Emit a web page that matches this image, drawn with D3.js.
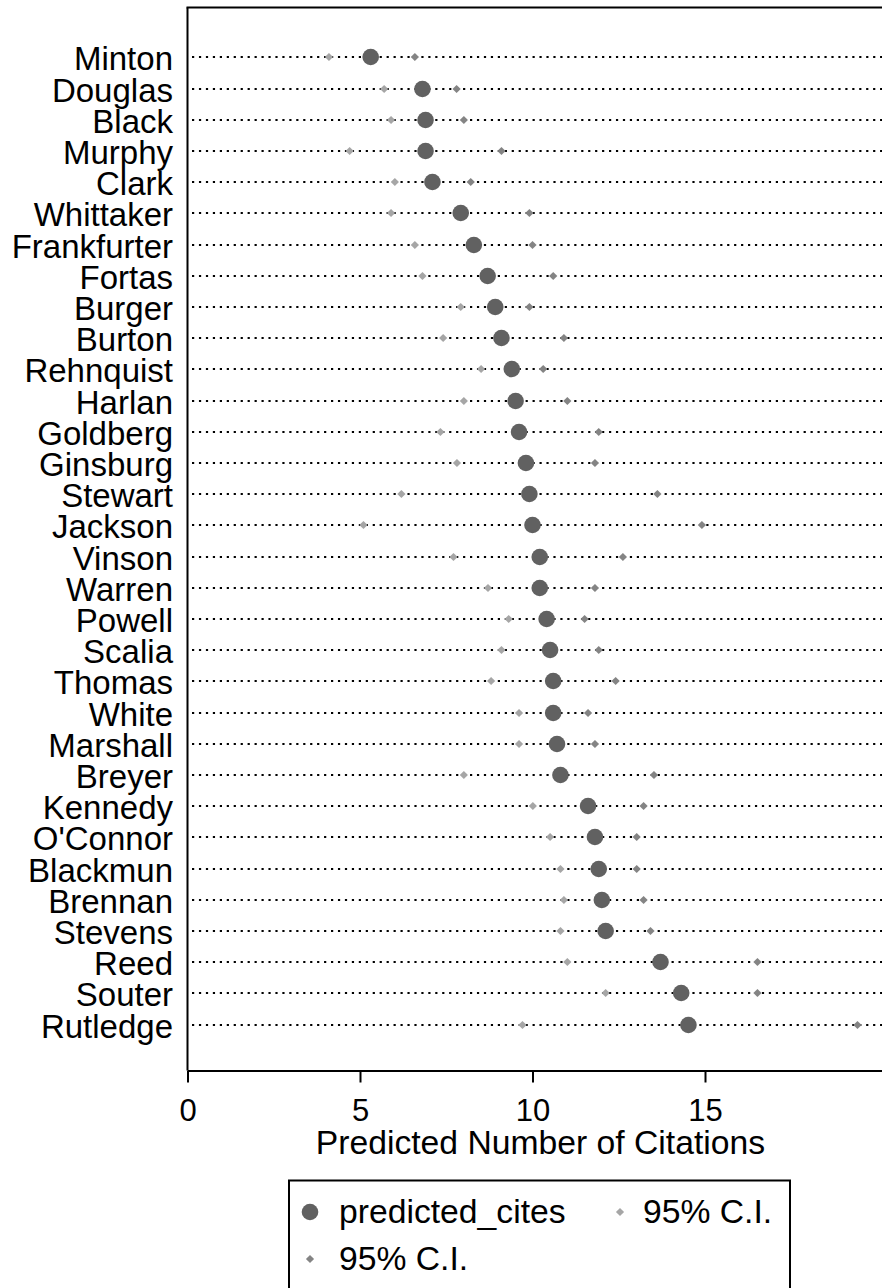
<!DOCTYPE html>
<html>
<head>
<meta charset="utf-8">
<script src="https://cdn.jsdelivr.net/npm/d3@7"></script>
<style>
  body { margin: 0; background: #fff; }
  svg { display: block; font-family: "Liberation Sans", Arial, sans-serif; }
</style>
</head>
<body>
<div id="chart"></div>
<script>
const justices = ['Minton', 'Douglas', 'Black', 'Murphy', 'Clark', 'Whittaker',
  'Frankfurter', 'Fortas', 'Burger', 'Burton', 'Rehnquist', 'Harlan', 'Goldberg',
  'Ginsburg', 'Stewart', 'Jackson', 'Vinson', 'Warren', 'Powell', 'Scalia', 'Thomas',
  'White', 'Marshall', 'Breyer', 'Kennedy', "O'Connor", 'Blackmun', 'Brennan',
  'Stevens', 'Reed', 'Souter', 'Rutledge'];

const predicted = [5.31, 6.81, 6.90, 6.90, 7.10, 7.92, 8.30, 8.70, 8.92, 9.10, 9.40,
  9.51, 9.61, 9.81, 9.91, 10.00, 10.21, 10.21, 10.41, 10.51, 10.60, 10.60, 10.71,
  10.81, 11.61, 11.81, 11.92, 12.01, 12.12, 13.71, 14.31, 14.52];

const lower = [4.10, 5.70, 5.90, 4.70, 6.01, 5.90, 6.59, 6.81, 7.92, 7.41, 8.51,
  8.01, 7.33, 7.81, 6.20, 5.10, 7.71, 8.71, 9.31, 9.10, 8.80, 9.61, 9.61, 8.01,
  10.01, 10.51, 10.81, 10.91, 10.81, 11.01, 12.12, 9.71];

const upper = [6.59, 7.80, 8.01, 9.10, 8.21, 9.91, 10.00, 10.60, 9.91, 10.91, 10.31,
  11.01, 11.92, 11.81, 13.62, 14.91, 12.62, 11.81, 11.51, 11.92, 12.41, 11.61, 11.81,
  13.52, 13.22, 13.02, 13.02, 13.22, 13.42, 16.52, 16.52, 19.42];

const xTicks = [0, 5, 10, 15];
const xTitle = 'Predicted Number of Citations';
const legendItems = [
  { label: 'predicted_cites', kind: 'point' },
  { label: '95% C.I.', kind: 'lower' },
  { label: '95% C.I.', kind: 'upper' }
];

const width = 882;
const height = 1288;
const frame = { left: 187.5, top: 7.5, bottom: 1070.5 };

const colors = { point: '#616161', lower: '#a6a6a6', upper: '#848484' };

const data = justices.map((name, i) => ({
  name, pred: predicted[i], lo: lower[i], hi: upper[i]
}));

const svg = d3.select('#chart').append('svg')
  .attr('width', width)
  .attr('height', height)
  .attr('viewBox', [0, 0, width, height]);

const x = d3.scaleLinear()
  .domain([0, 20.2])
  .range([frame.left, frame.left + 20.2 * 34.5]);

const y = d3.scalePoint()
  .domain(justices)
  .range([57.3, 1024.5]);

const diamond = d3.symbol().type(d3.symbolSquare).size(34);

// frame: top and left lines
svg.append('line')
  .attr('x1', frame.left - 1).attr('x2', width)
  .attr('y1', frame.top).attr('y2', frame.top)
  .attr('stroke', '#000').attr('stroke-width', 2);
svg.append('line')
  .attr('x1', frame.left).attr('x2', frame.left)
  .attr('y1', frame.top).attr('y2', frame.bottom)
  .attr('stroke', '#000').attr('stroke-width', 2);

// x axis
const xAxis = svg.append('g')
  .attr('transform', `translate(0,${frame.bottom})`)
  .call(d3.axisBottom(x).tickValues(xTicks).tickSize(12).tickSizeOuter(0).tickPadding(16))
  .attr('font-size', 31)
  .attr('font-family', null);
xAxis.select('.domain').attr('stroke-width', 2);
xAxis.selectAll('.tick line').attr('stroke-width', 2);
xAxis.selectAll('.tick text').attr('fill', '#000');

svg.append('text')
  .attr('x', x(10.23))
  .attr('y', 1154)
  .attr('text-anchor', 'middle')
  .attr('font-size', 33.7)
  .text(xTitle);

// dotted guide lines + names
const rows = svg.append('g')
  .selectAll('g')
  .data(data)
  .enter().append('g')
  .attr('transform', d => `translate(0,${Math.round(y(d.name))})`);

rows.append('line')
  .attr('x1', 192)
  .attr('x2', width)
  .attr('stroke', '#000')
  .attr('stroke-width', 2.2)
  .attr('stroke-dasharray', '2.2,4.75');

rows.append('text')
  .attr('x', 173)
  .attr('dy', '0.38em')
  .attr('text-anchor', 'end')
  .attr('font-size', 33)
  .text(d => d.name);

rows.append('path')
  .attr('d', diamond)
  .attr('transform', d => `translate(${x(d.lo)},0) rotate(45)`)
  .attr('fill', colors.lower);

rows.append('path')
  .attr('d', diamond)
  .attr('transform', d => `translate(${x(d.hi)},0) rotate(45)`)
  .attr('fill', colors.upper);

rows.append('circle')
  .attr('cx', d => x(d.pred))
  .attr('r', 8.3)
  .attr('fill', colors.point);

// legend
const legend = svg.append('g');
legend.append('rect')
  .attr('x', 289).attr('y', 1180.5)
  .attr('width', 501).attr('height', 130)
  .attr('fill', 'none')
  .attr('stroke', '#000')
  .attr('stroke-width', 2);

const legendPos = [[310, 1212], [620, 1212], [310, 1259]];
const entries = legend.selectAll('g.entry')
  .data(legendItems)
  .enter().append('g')
  .attr('class', 'entry')
  .attr('transform', (d, i) => `translate(${legendPos[i][0]},${legendPos[i][1]})`);

entries.filter(d => d.kind === 'point').append('circle')
  .attr('r', 8.3)
  .attr('fill', colors.point);
entries.filter(d => d.kind !== 'point').append('path')
  .attr('d', diamond)
  .attr('transform', 'rotate(45)')
  .attr('fill', d => colors[d.kind]);

entries.append('text')
  .attr('x', (d, i) => i === 1 ? 23 : 29)
  .attr('dy', '0.32em')
  .attr('font-size', 33.7)
  .text(d => d.label);
</script>
</body>
</html>
